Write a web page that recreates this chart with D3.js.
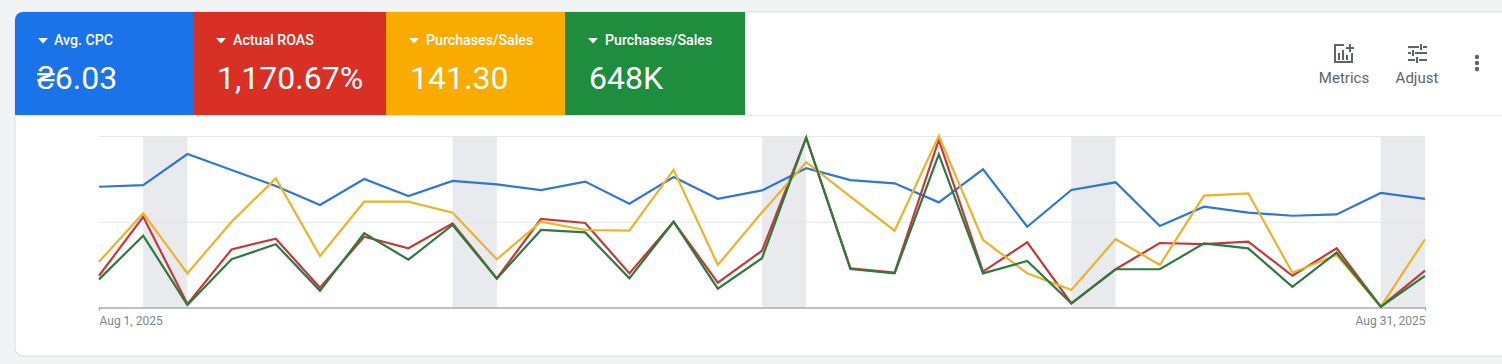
<!DOCTYPE html>
<html>
<head>
<meta charset="utf-8">
<script src="https://cdn.jsdelivr.net/npm/d3@7"></script>
<style>
  html, body { margin: 0; padding: 0; background: #f1f3f4; overflow: hidden; }
  svg { display: block; font-family: Roboto, sans-serif; }
</style>
</head>
<body>
<div id="graph"></div>
<script>
var days = d3.range(1, 32);
var avgCpc = [70.4,71.4,89.5,80.2,70.8,59.8,74.9,65,73.8,71.8,68.5,73.4,60.5,76.1,63.4,68.3,81.2,74.3,72.4,61.3,80.6,47.1,68.5,73,47.5,58.8,55.3,53.5,54.3,66.8,63.3];
var actualRoas = [18.5,52.9,2,33.9,40.1,11.5,41.3,34.5,49.1,17,51.6,49.3,19.9,50,14.5,33.1,99,22.9,20.3,97.7,20.9,38,2.4,22.3,37.6,37,38.4,18.5,34.5,0.5,21.5];
var purchases = [26.7,54.9,19.9,50,75.3,30,61.7,61.7,55.3,28.1,50,45.2,44.8,80.3,24.8,55.5,84.7,64.6,44.8,100,39.4,19.9,10.2,39.9,24.8,65.2,66.6,20.3,30.6,0.5,39.8];
var sales = [16.4,41.9,1.5,28.1,36.9,9.8,43.3,27.9,48.1,16.8,45.2,43.8,17,50,11,28.7,99,22.4,19.9,89.3,19.9,27.1,2.4,22.3,22.3,37.4,34.5,12.1,32,0.5,18.4];
var weekends = [[2,3],[9,10],[16,17],[23,24],[30,31]];
var yTicks = [50, 100];
var tileLabels = ["Avg. CPC", "Actual ROAS", "Purchases/Sales", "Purchases/Sales"];
var tileValues = ["₴6.03", "1,170.67%", "141.30", "648K"];
var tileEdges = [15, 193, 386, 565, 745];
var tileColors = ["#1a73e8", "#d93025", "#f9ab00", "#1e8e3e"];
var lineColors = ["#2f77d0", "#c5393a", "#ecb32a", "#2c7a3e"];

var width = 1502;
var height = 364;
var svg = d3.select("#graph").append("svg")
  .attr("width", width)
  .attr("height", height);

// card
svg.append("rect")
  .attr("x", 15).attr("y", 12)
  .attr("width", width).attr("height", 344)
  .attr("rx", 8)
  .attr("fill", "#fff")
  .attr("stroke", "#dadce0");
svg.append("line")
  .attr("x1", 15).attr("x2", width)
  .attr("y1", 115.5).attr("y2", 115.5)
  .attr("stroke", "#e4e6e8");

// tiles
var tiles = svg.selectAll(".tile")
  .data(tileLabels)
  .enter().append("g")
  .attr("class", "tile")
  .attr("transform", function (d, i) { return "translate(" + tileEdges[i] + ",12)"; });
tiles.append("path")
  .attr("d", function (d, i) {
    var w = tileEdges[i + 1] - tileEdges[i];
    if (i == 0) return "M0,103V8A8,8 0 0 1 8,0H" + w + "V103Z";
    return "M0,0H" + w + "V103H0Z";
  })
  .attr("fill", function (d, i) { return tileColors[i]; });
tiles.append("path")
  .attr("d", "M23,26h10l-5,5.5z")
  .attr("fill", "#fff");
tiles.append("text")
  .attr("x", function (d, i) { return i == 0 ? 39 : 40; })
  .attr("y", 33)
  .attr("font-size", 14.2)
  .attr("font-weight", 500)
  .attr("fill", "#fff")
  .text(function (d) { return d; });
tiles.append("text")
  .attr("x", function (d, i) { return i == 0 ? 22 : 24; })
  .attr("y", 77)
  .attr("font-size", 32)
  .attr("fill", "#fff")
  .text(function (d, i) { return tileValues[i]; });

// chart
var xScale = d3.scaleLinear().domain([1, 31]).range([99, 1425]);
var yScale = d3.scaleLinear().domain([0, 100]).range([307.5, 136]);

svg.selectAll(".weekend")
  .data(weekends)
  .enter().append("rect")
  .attr("class", "weekend")
  .attr("x", function (d) { return xScale(d[0]); })
  .attr("y", yScale(100))
  .attr("width", function (d) { return xScale(d[1]) - xScale(d[0]); })
  .attr("height", yScale(0) - yScale(100))
  .attr("fill", "#e8eaed");

svg.selectAll(".grid")
  .data(yTicks)
  .enter().append("line")
  .attr("class", "grid")
  .attr("x1", xScale(1)).attr("x2", xScale(31))
  .attr("y1", function (d) { return yScale(d) + 0.5; })
  .attr("y2", function (d) { return yScale(d) + 0.5; })
  .attr("stroke", "#e4e6e8");

var xAxis = d3.axisBottom(xScale)
  .tickValues([1, 31])
  .tickSize(3)
  .tickFormat(function (d) { return "Aug " + d + ", 2025"; });
var axisG = svg.append("g")
  .attr("transform", "translate(0," + yScale(0) + ")")
  .call(xAxis);
axisG.select(".domain").attr("stroke", "#a8abaf").attr("stroke-width", 1.4);
axisG.selectAll("line").attr("stroke", "#a8abaf");
axisG.selectAll("text")
  .attr("y", 9)
  .attr("font-family", "Roboto, sans-serif")
  .attr("font-size", 12)
  .attr("fill", "#80868b")
  .attr("text-anchor", function (d) { return d == 1 ? "start" : "end"; });

var line = d3.line()
  .x(function (d, i) { return xScale(days[i]); })
  .y(function (d) { return yScale(d); });

var series = [avgCpc, actualRoas, purchases, sales];
svg.selectAll(".series")
  .data(series)
  .enter().append("path")
  .attr("class", "series")
  .attr("d", function (d) { return line(d); })
  .attr("fill", "none")
  .attr("stroke", function (d, i) { return lineColors[i]; })
  .attr("stroke-width", 2.2);

// toolbar
var toolbar = svg.append("g").attr("fill", "#5f6368");
toolbar.append("text").attr("x", 1344).attr("y", 83).attr("text-anchor", "middle").attr("font-size", 15).text("Metrics");
toolbar.append("text").attr("x", 1417).attr("y", 83).attr("text-anchor", "middle").attr("font-size", 15).text("Adjust");

// metrics icon
toolbar.append("path")
  .attr("d", "M1344,45h-9v17h17v-9")
  .attr("fill", "none").attr("stroke", "#5f6368").attr("stroke-width", 2);
toolbar.append("path").attr("d", "M1338,53h2v7h-2zM1342,50h2v10h-2zM1346,55h2v5h-2z");
toolbar.append("path").attr("d", "M1349,44h2v3h3v2h-3v3h-2v-3h-3v-2h3z");

// adjust icon
toolbar.append("path").attr("d", "M1408,46h11v2h-11zM1423,46h4v2h-4zM1408,52h3v2h-3zM1415,52h12v2h-12zM1408,59h7v2h-7zM1419,59h8v2h-8z");
toolbar.append("path").attr("d", "M1420,44h2v6h-2zM1412,50h2v6h-2zM1416,57h2v6h-2z");

// more menu
toolbar.selectAll(".dot")
  .data([57, 63, 69])
  .enter().append("circle")
  .attr("class", "dot")
  .attr("cx", 1477)
  .attr("cy", function (d) { return d; })
  .attr("r", 2.2);
</script>
</body>
</html>
